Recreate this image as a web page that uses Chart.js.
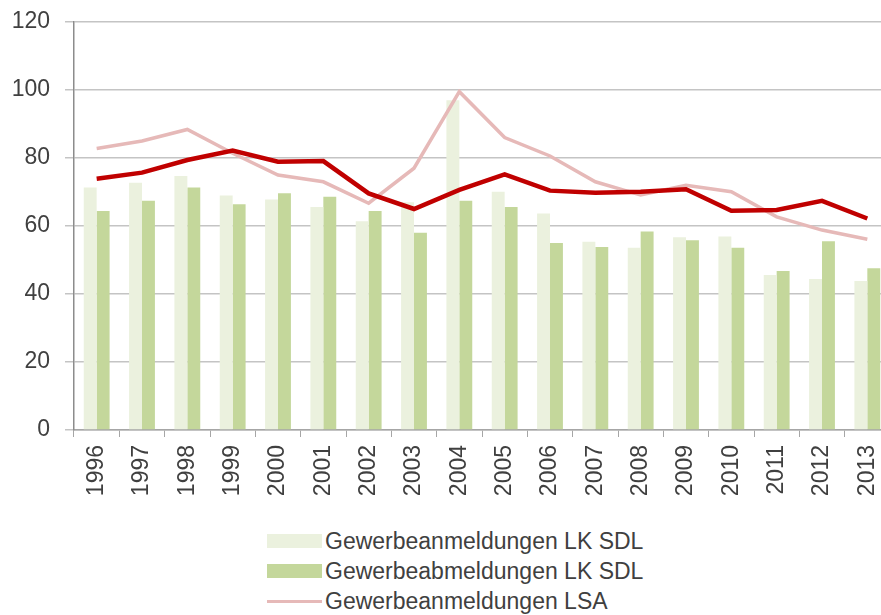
<!DOCTYPE html>
<html>
<head>
<meta charset="utf-8">
<script src="https://cdn.jsdelivr.net/npm/chart.js@4/dist/chart.umd.min.js"></script>
<style>
  html, body { margin: 0; padding: 0; background: #fff; overflow: hidden; width: 881px; height: 615px; }
  #wrap { position: absolute; left: 0; top: 0; width: 890px; height: 515px; }
  #legend { position: absolute; left: 267px; top: 526px; font-family: "Liberation Sans", Arial, sans-serif; font-size: 23px; color: #404040; }
  .item { height: 30px; line-height: 30px; display: flex; align-items: center; }
  .swatch { width: 55px; height: 14px; margin-right: 3px; }
  .line { width: 55px; height: 3px; margin-right: 3px; }
</style>
</head>
<body>
<div id="wrap"><canvas id="chart"></canvas></div>
<div id="legend"></div>
<script>
// Jahre und Werte
const years = ["1996","1997","1998","1999","2000","2001","2002","2003","2004","2005","2006","2007","2008","2009","2010","2011","2012","2013"];
const anmeldungenSDL = [71.3, 72.7, 74.7, 69, 67.8, 65.6, 61.4, 67, 97, 70.1, 63.7, 55.4, 53.6, 56.7, 56.9, 45.6, 44.4, 43.8];
const abmeldungenSDL = [64.4, 67.4, 71.3, 66.4, 69.6, 68.6, 64.4, 58, 67.4, 65.6, 55, 53.8, 58.4, 55.8, 53.6, 46.8, 55.5, 47.6];
const anmeldungenLSA = [82.8, 85, 88.4, 81.4, 75, 73, 66.7, 77, 99.5, 86, 80.6, 73, 69.1, 72, 70.1, 62.7, 58.8, 56.1];
const abmeldungenLSA = [73.9, 75.7, 79.4, 82.2, 78.9, 79.1, 69.6, 65, 70.6, 75.2, 70.4, 69.8, 70.1, 70.8, 64.5, 64.7, 67.4, 62.2];

const textColor = "#404040";
const font = { family: "'Liberation Sans', Arial, sans-serif", size: 23 };

const chart = new Chart(document.getElementById("chart"), {
  type: "bar",
  data: {
    labels: years,
    datasets: [
      {
        label: "Gewerbeanmeldungen LK SDL",
        data: anmeldungenSDL,
        backgroundColor: "#EBF1DE",
        categoryPercentage: 0.57,
        barPercentage: 1,
        order: 3,
      },
      {
        label: "Gewerbeabmeldungen LK SDL",
        data: abmeldungenSDL,
        backgroundColor: "#C4D79B",
        categoryPercentage: 0.57,
        barPercentage: 1,
        order: 3,
      },
      {
        type: "line",
        label: "Gewerbeanmeldungen LSA",
        data: anmeldungenLSA,
        borderColor: "#E6B9B8",
        borderWidth: 3.5,
        pointRadius: 0,
        tension: 0,
        order: 2,
      },
      {
        type: "line",
        label: "Gewerbeabmeldungen LSA",
        data: abmeldungenLSA,
        borderColor: "#C00000",
        borderWidth: 4.5,
        pointRadius: 0,
        tension: 0,
        order: 1,
      },
    ],
  },
  options: {
    responsive: true,
    maintainAspectRatio: false,
    animation: false,
    layout: { padding: { top: 22, right: 0, bottom: 0, left: 0 } },
    plugins: { legend: { display: false }, tooltip: { enabled: false } },
    scales: {
      x: {
        grid: { drawOnChartArea: false, drawTicks: true, tickLength: 7, color: "#a6a6a6", lineWidth: 1 },
        border: { color: "#a6a6a6", width: 1.5 },
        ticks: { color: textColor, font: font, minRotation: 90, maxRotation: 90, padding: 8, autoSkip: false },
        afterFit: (s) => { s.height = 85; s.paddingLeft = 0; s.paddingRight = 0; },
      },
      y: {
        min: 0,
        max: 120,
        grid: { color: "#c4c4c4", lineWidth: 1.5, tickLength: 9 },
        border: { color: "#8c8c8c", width: 1.5 },
        ticks: { color: textColor, font: font, stepSize: 20, padding: 15 },
        afterFit: (s) => { s.width = 74; s.paddingTop = 0; s.paddingBottom = 0; },
      },
    },
  },
});

// Legende als HTML (nur drei Einträge wie im Original)
const legend = document.getElementById("legend");
chart.data.datasets.slice(0, 3).forEach((ds) => {
  const row = document.createElement("div");
  row.className = "item";
  const mark = document.createElement("span");
  if (ds.type === "line") {
    mark.className = "line";
    mark.style.background = ds.borderColor;
  } else {
    mark.className = "swatch";
    mark.style.background = ds.backgroundColor;
  }
  const txt = document.createElement("span");
  txt.textContent = ds.label;
  row.appendChild(mark);
  row.appendChild(txt);
  legend.appendChild(row);
});
</script>
</body>
</html>
